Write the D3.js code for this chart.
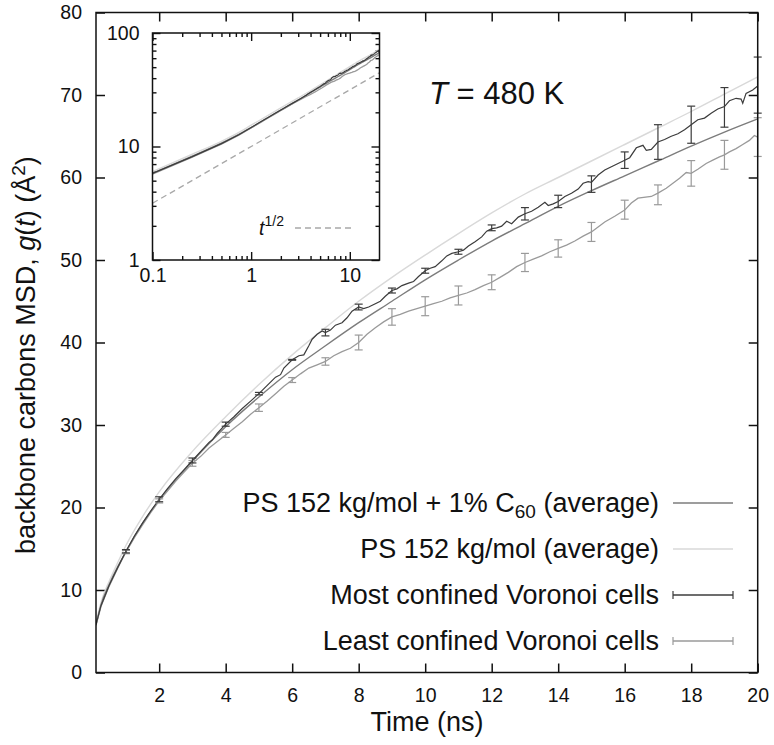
<!DOCTYPE html>
<html><head><meta charset="utf-8">
<script src="https://cdn.jsdelivr.net/npm/d3@7"></script>
<style>
html,body{margin:0;padding:0;background:#fff;}
svg text{font-family:"Liberation Sans",Arial,Helvetica,sans-serif;fill:#111;}
</style>
</head><body>
<svg id="chart" width="774" height="745"></svg>
<script>
// ---------- data ----------
const xTicks = [2,4,6,8,10,12,14,16,18,20];
const yTicks = [0,10,20,30,40,50,60,70,80];
const insetXMajor = [0.1,1,10];
const insetYMajor = [1,10,100];

const avgT   = [0.1,0.25,0.5,0.75,1,1.5,2,3,4,5,6,7,8,9,10,11,12,13,14,15,16,17,18,19,20];
const c60Avg = [5.8,8.2,10.7,12.8,14.65,18.1,20.9,25.6,29.8,33.4,36.7,39.6,42.4,45.0,47.6,50.0,52.3,54.4,56.5,58.4,60.2,62.0,63.8,65.5,67.1];
const psAvg  = [6.0,8.5,11.1,13.3,15.4,18.9,21.9,26.8,31.0,34.9,38.5,41.8,45.0,47.9,50.6,53.2,55.7,58.0,60.0,62.0,64.0,66.0,68.0,70.1,72.2];

const mostT = [0.1,0.25,0.5,0.75,1.0,1.25,1.5,1.75,2.0,2.25,2.5,2.75,3.0,3.25,3.5,3.6,3.75,4.0,4.25,4.5,4.75,5.0,5.25,5.5,5.65,5.75,6.0,6.2,6.35,6.5,6.6,6.75,6.9,7.0,7.15,7.3,7.5,7.65,7.8,8.0,8.15,8.3,8.5,8.65,8.8,9.0,9.15,9.3,9.5,9.65,9.8,10.0,10.15,10.3,10.5,10.65,10.8,11.0,11.15,11.3,11.5,11.7,11.85,12.0,12.15,12.3,12.45,12.6,12.8,13.0,13.2,13.4,13.6,13.7,13.85,14.0,14.2,14.4,14.6,14.75,14.9,15.0,15.2,15.4,15.6,15.8,16.0,16.15,16.35,16.55,16.65,16.8,17.0,17.2,17.4,17.6,17.8,18.0,18.2,18.4,18.6,18.8,19.0,19.15,19.35,19.5,19.55,19.65,19.85,20.0];
const mostV = [5.8,8.1,10.6,12.7,14.7,16.5,18.1,19.6,21.0,22.3,23.5,24.6,25.7,26.8,27.9,28.2,29.0,30.1,31.0,32.0,32.9,33.8,34.8,35.8,36.1,36.9,37.9,38.4,38.5,39.6,40.4,41.0,41.4,41.2,41.5,42.1,42.4,43.0,43.8,44.3,44.1,44.3,44.7,45.0,45.6,46.3,46.5,46.9,47.2,47.4,48.0,48.7,49.0,49.2,49.9,50.5,50.8,51.0,51.2,51.7,52.2,52.8,53.5,53.8,53.9,54.1,54.7,54.4,55.2,55.6,55.9,56.4,57.0,56.6,56.8,57.1,57.7,58.1,58.6,59.3,59.5,59.4,60.3,60.9,61.3,61.7,62.1,62.4,63.6,63.9,63.3,63.4,64.3,64.6,65.0,65.3,65.8,66.4,67.0,67.2,67.8,68.3,68.6,69.3,69.6,69.5,69.0,70.2,70.6,71.1];

const leastT = [0.1,0.25,0.5,0.75,1.0,1.25,1.5,1.75,2.0,2.25,2.5,2.75,3.0,3.25,3.5,3.75,4.0,4.25,4.5,4.75,5.0,5.25,5.5,5.75,6.0,6.25,6.5,6.75,7.0,7.25,7.5,7.75,8.0,8.25,8.5,8.75,9.0,9.25,9.5,9.75,10.0,10.25,10.5,10.75,11.0,11.25,11.5,11.75,12.0,12.25,12.5,12.75,13.0,13.25,13.5,13.75,14.0,14.25,14.5,14.75,15.0,15.2,15.4,15.7,16.0,16.2,16.4,16.8,17.0,17.25,17.45,17.65,17.85,18.0,18.2,18.45,18.65,18.85,19.0,19.15,19.35,19.55,19.75,19.9,20.0];
const leastV = [5.7,8.0,10.5,12.6,14.6,16.3,17.9,19.4,20.8,22.0,23.2,24.3,25.35,26.2,27.2,28.0,28.8,29.6,30.4,31.3,32.1,32.9,33.8,34.7,35.45,36.2,36.9,37.3,37.7,38.4,38.9,39.3,40.0,41.0,41.8,42.5,43.1,43.4,43.8,44.1,44.4,44.7,45.0,45.4,45.7,46.0,46.4,46.9,47.3,47.9,48.5,49.2,49.7,50.1,50.5,51.0,51.4,51.8,52.3,52.9,53.4,54.0,54.6,55.3,56.05,56.9,57.5,57.7,58.1,58.7,59.3,59.9,60.6,60.5,61.0,61.7,62.1,62.5,62.75,63.1,63.5,64.0,64.5,65.1,64.9];

const errT      = [1,2,3,4,5,6,7,8,9,10,11,12,13,14,15,16,17,18,19,20];
const mostMean  = [14.7,21.0,25.7,30.1,33.8,37.9,41.2,44.3,46.3,48.7,51.0,53.9,55.6,57.1,59.2,62.1,64.3,66.4,68.5,71.2];
const mostErr   = [0.2,0.3,0.3,0.25,0.15,0.05,0.4,0.35,0.3,0.3,0.3,0.35,0.75,0.75,1.0,1.0,2.1,2.25,2.4,3.4];
const leastMean = [14.6,20.8,25.35,28.8,32.1,35.45,37.7,40.0,43.1,44.4,45.7,47.3,49.7,51.4,53.4,56.1,57.9,60.5,62.75,64.9];
const leastErr  = [0.2,0.25,0.35,0.3,0.45,0.3,0.45,0.9,1.0,1.15,1.15,0.9,1.1,1.05,1.15,1.15,1.2,1.55,1.75,2.35];

const refT = [0.1,20];        // t^{1/2} guide line
const refV = [3.16,44.7];

const legendLabels = ["PS 152 kg/mol + 1% C60 (average)","PS 152 kg/mol (average)","Most confined Voronoi cells","Least confined Voronoi cells"];

// ---------- styles ----------
const colMost = "#3c3c3c", colLeast = "#9a9a9a", colC60 = "#7c7c7c", colPS = "#d9d9d9", colRef = "#a8a8a8";

const svg = d3.select("#chart");
const x = d3.scaleLinear().domain([0.1,20]).range([96,757.7]);
const y = d3.scaleLinear().domain([0,80]).range([672.5,12.5]);

svg.append("defs").append("clipPath").attr("id","mainclip")
  .append("rect").attr("x",96).attr("y",12.5).attr("width",757.7-96).attr("height",660);

const zipP = (T,V)=>T.map((t,i)=>[t,V[i]]);

// axes (ticks inward)
const gx = svg.append("g").attr("transform","translate(0,672.5)")
  .call(d3.axisBottom(x).tickValues(xTicks).tickSizeInner(-9).tickSizeOuter(0).tickPadding(16).tickFormat(d3.format("d")));
const gxt = svg.append("g").attr("transform","translate(0,12.5)")
  .call(d3.axisTop(x).tickValues(xTicks).tickSizeInner(-9).tickSizeOuter(0).tickFormat(""));
const gy = svg.append("g").attr("transform","translate(96,0)")
  .call(d3.axisLeft(y).tickValues(yTicks).tickSizeInner(-9).tickSizeOuter(0).tickPadding(14).tickFormat(d3.format("d")));
const gyr = svg.append("g").attr("transform","translate(757.7,0)")
  .call(d3.axisRight(y).tickValues(yTicks).tickSizeInner(-9).tickSizeOuter(0).tickFormat(""));
[gx,gxt,gy,gyr].forEach(g=>{
  g.select(".domain").remove();
  g.selectAll(".tick line").attr("stroke","#111").attr("stroke-width",1.5);
  g.selectAll(".tick text").attr("font-size",19.5).attr("fill","#111")
   .style("font-family",'"Liberation Sans",Arial,Helvetica,sans-serif');
});

// main lines
const line = d3.line().x(d=>x(d[0])).y(d=>y(d[1]));
const smooth = d3.line().x(d=>x(d[0])).y(d=>y(d[1])).curve(d3.curveMonotoneX);
const plot = svg.append("g").attr("clip-path","url(#mainclip)");
plot.append("path").attr("d",smooth(zipP(avgT,psAvg))).attr("fill","none").attr("stroke",colPS).attr("stroke-width",1.4);
plot.append("path").attr("d",smooth(zipP(avgT,c60Avg))).attr("fill","none").attr("stroke",colC60).attr("stroke-width",1.4);
plot.append("path").attr("d",line(zipP(leastT,leastV))).attr("fill","none").attr("stroke",colLeast).attr("stroke-width",1.3);
plot.append("path").attr("d",line(zipP(mostT,mostV))).attr("fill","none").attr("stroke",colMost).attr("stroke-width",1.2);

function errorBars(mean, err, col){
  const g = svg.append("g").attr("stroke",col).attr("stroke-width",1.2).attr("fill","none");
  errT.forEach((t,i)=>{
    const cx = x(t), y0 = y(mean[i]-err[i]), y1 = y(mean[i]+err[i]);
    g.append("line").attr("x1",cx).attr("x2",cx).attr("y1",y0).attr("y2",y1);
    g.append("line").attr("x1",cx-4).attr("x2",cx+4).attr("y1",y0).attr("y2",y0);
    g.append("line").attr("x1",cx-4).attr("x2",cx+4).attr("y1",y1).attr("y2",y1);
  });
}
errorBars(leastMean, leastErr, colLeast);
errorBars(mostMean, mostErr, colMost);

// frame
svg.append("rect").attr("x",96).attr("y",12.5).attr("width",757.7-96).attr("height",660)
  .attr("fill","none").attr("stroke","#111").attr("stroke-width",1.5);

// T label
const tl = svg.append("text").attr("x",429).attr("y",104).attr("font-size",31);
tl.append("tspan").attr("font-style","italic").text("T");
tl.append("tspan").text(" = 480 K");

// axis titles
svg.append("text").attr("x",427).attr("y",731).attr("text-anchor","middle").attr("font-size",27).text("Time (ns)");
const yl = svg.append("text").attr("transform","translate(35,554) rotate(-90)").attr("font-size",27);
yl.append("tspan").text("backbone carbons MSD, ");
yl.append("tspan").attr("font-style","italic").text("g");
yl.append("tspan").text("(");
yl.append("tspan").attr("font-style","italic").text("t");
yl.append("tspan").text(") (Å");
yl.append("tspan").attr("font-size",19).attr("dy",-10).text("2");
yl.append("tspan").attr("dy",10).text(")");

// legend
const legY = [503,549,595,641];
const legendCols = [colC60,colPS,colMost,colLeast];
legY.forEach((ly,i)=>{
  const t = svg.append("text").attr("x",659).attr("y",ly+9).attr("text-anchor","end").attr("font-size",27);
  if(i===0){
    t.append("tspan").text("PS 152 kg/mol + 1% C");
    t.append("tspan").attr("font-size",19).attr("dy",6).text("60");
    t.append("tspan").attr("dy",-6).text(" (average)");
  } else t.text(legendLabels[i]);
  svg.append("line").attr("x1",673).attr("x2",733).attr("y1",ly).attr("y2",ly)
    .attr("stroke",legendCols[i]).attr("stroke-width",1.3);
  if(i>=2){
    [673,733].forEach(cx=>svg.append("line").attr("x1",cx).attr("x2",cx).attr("y1",ly-4).attr("y2",ly+4)
      .attr("stroke",legendCols[i]).attr("stroke-width",1.2));
  }
});

// ---------- inset ----------
const xi = d3.scaleLog().domain([0.1,20]).range([152.5,379.5]);
const yi = d3.scaleLog().domain([1,100]).range([260,33]);
svg.append("rect").attr("x",152.5).attr("y",33).attr("width",227).attr("height",227).attr("fill","#fff");
svg.select("defs").append("clipPath").attr("id","insetclip")
  .append("rect").attr("x",152.5).attr("y",33).attr("width",227).attr("height",227);

const xMinor = [0.2,0.3,0.4,0.5,0.6,0.7,0.8,0.9,2,3,4,5,6,7,8,9];
const yMinor = [2,3,4,5,6,7,8,9,20,30,40,50,60,70,80,90];
function insetAxis(axis, vals, size, fmt, tr){
  const g = svg.append("g").attr("transform",tr)
    .call(axis.tickValues(vals).tickSizeInner(-size).tickSizeOuter(0).tickFormat(fmt));
  g.select(".domain").remove();
  g.selectAll(".tick line").attr("stroke","#111").attr("stroke-width",1.4);
  g.selectAll(".tick text").attr("font-size",19.5).attr("fill","#111")
   .style("font-family",'"Liberation Sans",Arial,Helvetica,sans-serif');
  return g;
}
insetAxis(d3.axisBottom(xi).tickPadding(8), insetXMajor, 8, d=>String(d), "translate(0,260)");
insetAxis(d3.axisBottom(xi), xMinor, 4, ()=>"", "translate(0,260)");
insetAxis(d3.axisTop(xi), insetXMajor, 8, ()=>"", "translate(0,33)");
insetAxis(d3.axisTop(xi), xMinor, 4, ()=>"", "translate(0,33)");
insetAxis(d3.axisLeft(yi).tickPadding(13), insetYMajor, 8, d=>String(d), "translate(152.5,0)");
insetAxis(d3.axisLeft(yi), yMinor, 4, ()=>"", "translate(152.5,0)");
insetAxis(d3.axisRight(yi), insetYMajor, 8, ()=>"", "translate(379.5,0)");
insetAxis(d3.axisRight(yi), yMinor, 4, ()=>"", "translate(379.5,0)");

const iline = d3.line().x(d=>xi(d[0])).y(d=>yi(d[1]));
const ismooth = d3.line().x(d=>xi(d[0])).y(d=>yi(d[1])).curve(d3.curveMonotoneX);
const ip = svg.append("g").attr("clip-path","url(#insetclip)").attr("fill","none");
ip.append("path").attr("d",iline(zipP(refT,refV))).attr("stroke",colRef).attr("stroke-width",1.3).attr("stroke-dasharray","6,4");
ip.append("path").attr("d",ismooth(zipP(avgT,psAvg))).attr("stroke",colPS).attr("stroke-width",1.4);
ip.append("path").attr("d",ismooth(zipP(avgT,c60Avg))).attr("stroke",colC60).attr("stroke-width",1.4);
ip.append("path").attr("d",iline(zipP(leastT,leastV))).attr("stroke",colLeast).attr("stroke-width",1.3);
ip.append("path").attr("d",iline(zipP(mostT,mostV))).attr("stroke",colMost).attr("stroke-width",1.2);

// inset legend
const il = svg.append("text").attr("x",284).attr("y",235).attr("text-anchor","end").attr("font-size",19.5);
il.append("tspan").attr("font-style","italic").text("t");
il.append("tspan").attr("font-size",14).attr("dy",-9).text("1/2");
svg.append("line").attr("x1",295).attr("x2",355).attr("y1",228).attr("y2",228)
  .attr("stroke",colRef).attr("stroke-width",1.3).attr("stroke-dasharray","6,4");

svg.append("rect").attr("x",152.5).attr("y",33).attr("width",227).attr("height",227)
  .attr("fill","none").attr("stroke","#111").attr("stroke-width",1.5);
</script>
</body></html>
